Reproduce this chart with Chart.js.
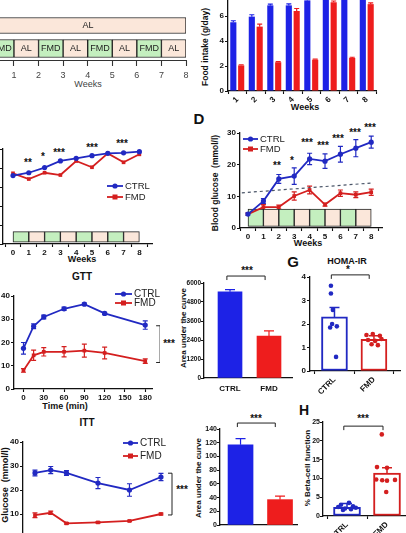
<!DOCTYPE html>
<html lang="en">
<head>
<meta charset="UTF-8">
<title>FMD figure</title>
<style>
  body { margin:0; width:406px; height:533px; overflow:hidden; position:relative; background:#fff;
         font-family:'Liberation Sans', Arial, sans-serif; color:#111; }
  canvas { position:absolute; }
  .t { position:absolute; white-space:nowrap; font-weight:bold; font-size:9px; line-height:1; transform:translate(-50%,-50%); }
  .rot { transform:translate(-50%,-50%) rotate(-90deg); }
  .letter { font-size:15px; }
  .star { font-size:10px; }
</style>
</head>
<body>
<div class="t" style="left:88px;top:84px;font-weight:normal;color:#444">Weeks</div>
<div class="t rot" style="left:205px;top:47px;font-size:8.5px">Food intake (g/day)</div>
<div class="t" style="left:305px;top:107px">Weeks</div>
<div class="t" style="left:82px;top:259px">Weeks</div>
<div class="t letter" style="left:199px;top:118px">D</div>
<div class="t rot" style="left:215px;top:183px;font-size:8.5px">Blood glucose&nbsp; (mmol/l)</div>
<div class="t" style="left:308px;top:243px">Weeks</div>
<div class="t" style="left:82px;top:277px;font-size:10px">GTT</div>
<div class="t" style="left:65px;top:406px">Time (min)</div>
<div class="t rot" style="left:184px;top:328px;font-size:8px">Area under the curve</div>
<div class="t letter" style="left:293px;top:261px">G</div>
<div class="t" style="left:347px;top:261px">HOMA-IR</div>
<div class="t" style="left:87px;top:423px;font-size:10px">ITT</div>
<div class="t rot" style="left:5px;top:485px">Glucose&nbsp; (mmol/l)</div>
<div class="t rot" style="left:199px;top:478px;font-size:8px">Area under the curve</div>
<div class="t letter" style="left:304px;top:410px;font-size:14px">H</div>
<div class="t rot" style="left:308px;top:468px;font-size:8px">% Beta-cell function</div>

<div class="t star" style="left:28px;top:163px">**</div>
<div class="t star" style="left:43px;top:157px">*</div>
<div class="t star" style="left:59px;top:153px">***</div>
<div class="t star" style="left:92px;top:148px">***</div>
<div class="t star" style="left:122px;top:144px">***</div>
<div class="t star" style="left:277px;top:166px">**</div>
<div class="t star" style="left:292px;top:161px">*</div>
<div class="t star" style="left:307px;top:143px">***</div>
<div class="t star" style="left:323px;top:146px">***</div>
<div class="t star" style="left:338px;top:139px">***</div>
<div class="t star" style="left:355px;top:133px">***</div>
<div class="t star" style="left:370px;top:128px">***</div>
<div class="t star" style="left:169px;top:344px">***</div>
<div class="t star" style="left:247px;top:271px">***</div>
<div class="t star" style="left:348px;top:270px">*</div>
<div class="t star" style="left:182px;top:490px">***</div>
<div class="t star" style="left:256px;top:419px">***</div>
<div class="t star" style="left:363px;top:419px">***</div>

<script src="https://cdn.jsdelivr.net/npm/chart.js"></script>
<script>
const BLUE = '#1d22e6', RED = '#ee1d1d', LBLUE = '#2129c2', LRED = '#d41f1f';
const GREEN = '#c4efbf', BEIGE = '#fbe7da';

// diet schedule
const weekTicks = [0, 1, 2, 3, 4, 5, 6, 7, 8];
const alSpan = [0, 8];
const cycleStarts = [0, 1, 2, 3, 4, 5, 6, 7];
const cycleLabels = ['FMD', 'AL', 'FMD', 'AL', 'FMD', 'AL', 'FMD', 'AL'];

// food intake (g/day)
const foodWeeks = ['1', '2', '3', '4', '5', '6', '7', '8'];
const foodCtrl = [5.5, 5.95, 6.85, 6.85, 7.25, 7.6, 7.7, 7.6];
const foodCtrlErr = [0.12, 0.15, 0.1, 0.12, 0.12, 0.15, 0.15, 0.15];
const foodFmd = [2.05, 5.15, 2.3, 6.4, 2.5, 7.1, 2.65, 6.95];
const foodFmdErr = [0.05, 0.2, 0.05, 0.2, 0.05, 0.1, 0.05, 0.1];

// body weight (panel C)
const weightCtrl = [36, 37.5, 40.2, 43.7, 45.1, 46.5, 47.7, 48, 48.6];
const weightFmd = [37.2, 34.2, 37.5, 36.3, 43.7, 40.4, 47.7, 43, 47.2];

// blood glucose (panel D)
const glucCtrl = [4.4, 8.5, 15.5, 16.4, 21.8, 21.1, 23.3, 25.2, 27.1];
const glucCtrlErr = [0.4, 0.8, 1.4, 2.6, 1.8, 2.3, 2.5, 2.7, 1.9];
const glucFmd = [4.4, 6.6, 6.6, 10.1, 12.0, 7.4, 11.0, 10.5, 11.3];
const glucFmdErr = [0.3, 0.8, 0.6, 1.3, 1.2, 0.5, 1.0, 0.9, 1.0];
const thresholdX = [-0.4, 8];
const thresholdY = [11.1, 14.2];

// GTT
const gttTime = [0, 15, 30, 60, 90, 120, 180];
const gttCtrl = [17.5, 27, 31, 34.5, 36.5, 32.5, 27.5];
const gttCtrlErr = [2.5, 1, 0.8, 0.7, 0.5, 0.5, 1.8];
const gttFmd = [8, 14.5, 16, 16, 16.5, 15.5, 12];
const gttFmdErr = [0.8, 2.2, 1.8, 2.2, 2.8, 2.5, 1];
const gttAuc = [5450, 2650];
const gttAucErr = [130, 330];

// HOMA-IR
const homaBar = [2.3, 1.35];
const homaErr = [0.4, 0.15];
const homaCtrlDots = [3.63, 3.3, 2.6, 2.0, 1.9, 1.85, 0.6];
const homaCtrlJit = [-0.09, -0.09, -0.04, -0.06, 0.06, -0.11, 0.04];
const homaFmdDots = [1.53, 1.57, 1.5, 1.32, 1.28, 1.36, 1.14, 1.1];
const homaFmdJit = [-0.19, -0.03, 0.15, -0.15, 0.03, 0.19, -0.06, 0.1];

// ITT
const ittTime = [0, 15, 30, 60, 90, 120];
const ittCtrl = [27.1, 28.3, 27.1, 22.9, 20, 25.4];
const ittCtrlErr = [1.2, 1.5, 1, 2.3, 2.6, 1.5];
const ittFmd = [9.5, 10.5, 6.1, 6.5, 7.1, 10];
const ittFmdErr = [1, 0.7, 0.3, 0.3, 0.3, 0.4];
const ittAuc = [117, 37];
const ittAucErr = [9, 5];

// beta-cell function
const betaBar = [2.3, 11.4];
const betaErr = [1.0, 1.4];
const betaCtrlDots = [3.5, 3.0, 2.6, 2.4, 2.2, 2.0, 1.8, 1.6];
const betaCtrlJit = [0.05, -0.15, 0.15, -0.22, 0.22, -0.05, 0.1, -0.1];
const betaFmdDots = [21.7, 13.0, 12.8, 9.7, 9.5, 9.4, 9.6, 6.4];
const betaFmdJit = [-0.13, -0.25, 0.0, -0.27, -0.12, 0.0, 0.2, -0.02];

const groups = ['CTRL', 'FMD'];

Chart.defaults.font.family = "'Liberation Sans', Arial, sans-serif";
Chart.defaults.font.size = 8;
Chart.defaults.font.weight = 'bold';
Chart.defaults.color = '#111';

const errorBars = {
  id: 'errorBars',
  beforeDatasetsDraw(chart) {
    const ctx = chart.ctx;
    chart.data.datasets.forEach((ds, i) => {
      if (!ds.errors) return;
      const meta = chart.getDatasetMeta(i);
      const ys = chart.scales[meta.yAxisID];
      ctx.save();
      ctx.lineWidth = ds.errWidth || 1.2;
      meta.data.forEach((el, j) => {
        const e = ds.errors[j];
        if (!e) return;
        const v = meta.controller.getParsed(j).y;
        const top = ys.getPixelForValue(v + e);
        const bot = ds.upOnly ? ys.getPixelForValue(v) : ys.getPixelForValue(v - e);
        const w = ds.capWidth || 2.5;
        ctx.strokeStyle = Array.isArray(ds.errColor) ? ds.errColor[j] : ds.errColor;
        ctx.beginPath();
        ctx.moveTo(el.x, top); ctx.lineTo(el.x, bot);
        ctx.moveTo(el.x - w, top); ctx.lineTo(el.x + w, top);
        if (!ds.upOnly) { ctx.moveTo(el.x - w, bot); ctx.lineTo(el.x + w, bot); }
        ctx.stroke();
      });
      ctx.restore();
    });
  }
};

const extras = {
  id: 'extras',
  afterDatasetsDraw(chart, args, opt) {
    const ctx = chart.ctx, xs = chart.scales.x, ys = chart.scales.y;
    ctx.save();
    ctx.strokeStyle = '#222';
    ctx.lineWidth = 1;
    if (opt.hBracket) {
      const b = opt.hBracket;
      const x1 = xs.getPixelForValue(b.x1), x2 = xs.getPixelForValue(b.x2), y = ys.getPixelForValue(b.y);
      ctx.beginPath();
      ctx.moveTo(x1, y + 4); ctx.lineTo(x1, y); ctx.lineTo(x2, y); ctx.lineTo(x2, y + 4);
      ctx.stroke();
    }
    if (opt.vBracket) {
      const b = opt.vBracket;
      const x = xs.getPixelForValue(b.x), y1 = ys.getPixelForValue(b.y1), y2 = ys.getPixelForValue(b.y2);
      ctx.beginPath();
      ctx.moveTo(x - 4, y1); ctx.lineTo(x, y1); ctx.lineTo(x, y2); ctx.lineTo(x - 4, y2);
      ctx.stroke();
    }
    if (opt.legend) {
      opt.legend.forEach(it => {
        const x = it.x - opt.ox, y = it.y - opt.oy;
        ctx.strokeStyle = it.color; ctx.fillStyle = it.color; ctx.lineWidth = 1.8;
        ctx.beginPath(); ctx.moveTo(x, y); ctx.lineTo(x + it.len, y); ctx.stroke();
        const mx = x + it.len / 2;
        ctx.beginPath();
        if (it.square) ctx.rect(mx - 2.5, y - 2.5, 5, 5); else ctx.arc(mx, y, 2.6, 0, Math.PI * 2);
        ctx.fill();
        ctx.fillStyle = '#222';
        ctx.font = 'normal ' + it.size + "px 'Liberation Sans', Arial, sans-serif";
        ctx.textBaseline = 'middle';
        ctx.fillText(it.text, x + it.len + 2, y + 0.5);
      });
    }
    chart.data.datasets.forEach((ds, i) => {
      if (!ds.segText) return;
      const meta = chart.getDatasetMeta(i);
      ctx.fillStyle = '#222';
      ctx.font = "normal 9px 'Liberation Sans', Arial, sans-serif";
      ctx.textAlign = 'center'; ctx.textBaseline = 'middle';
      meta.data.forEach((el, j) => ctx.fillText(ds.segText[j], (el.x + el.base) / 2, el.y + 0.5));
    });
    ctx.restore();
  }
};

function axis(o) {
  const base = {
    border: { display: true, color: '#111', width: 1.3 },
    grid: { drawOnChartArea: false, color: '#111', tickLength: 3, tickWidth: 1.1 },
    ticks: { color: '#111', padding: 1, font: { size: 8, weight: 'bold' } }
  };
  return Object.assign({}, base, o, {
    grid: Object.assign({}, base.grid, o.grid || {}),
    ticks: Object.assign({}, base.ticks, o.ticks || {}),
    border: Object.assign({}, base.border, o.border || {})
  });
}
function fixedTicks(vals) { return s => { s.ticks = vals.map(v => ({ value: v })); }; }
const plain = v => String(v);

function makeChart(box, area, cfg) {
  const c = document.createElement('canvas');
  c.width = box.w; c.height = box.h;
  c.style.left = box.x + 'px'; c.style.top = box.y + 'px';
  document.body.appendChild(c);
  const o = cfg.options;
  o.responsive = false;
  o.animation = false;
  o.layout = { autoPadding: false, padding: { left: 0, top: area.t - box.y, right: box.x + box.w - area.r, bottom: 0 } };
  const xs = o.scales.x, ys = o.scales.y;
  if (xs.display !== false) xs.afterFit = s => { s.height = box.y + box.h - area.b; };
  else o.layout.padding.bottom = box.y + box.h - area.b;
  if (ys.display !== false) ys.afterFit = s => { s.width = area.l - box.x; };
  else o.layout.padding.left = area.l - box.x;
  o.plugins = Object.assign({ legend: { display: false }, tooltip: { enabled: false } }, o.plugins || {});
  o.plugins.extras = Object.assign({ ox: box.x, oy: box.y }, o.plugins.extras || {});
  cfg.plugins = [errorBars, extras];
  return new Chart(c, cfg);
}

function scheduleBars(lo, hi) {
  return {
    type: 'bar', order: 5, grouped: false,
    data: cycleStarts.map(s => ({ x: s + 0.5, y: [lo, hi] })),
    backgroundColor: cycleLabels.map(l => l === 'FMD' ? GREEN : BEIGE),
    borderColor: '#222', borderWidth: 1, borderSkipped: false,
    barPercentage: 1, categoryPercentage: 1
  };
}
function lineSet(xv, yv, err, color, square) {
  return {
    type: 'line', order: 1,
    data: xv.map((x, i) => ({ x: x, y: yv[i] })),
    borderColor: color, backgroundColor: color, borderWidth: 1.8,
    pointRadius: 2.6, pointStyle: square ? 'rect' : 'circle', pointBorderWidth: 0,
    tension: 0, errors: err, errColor: color, capWidth: 2.5
  };
}
function dotSet(vals, jit, x0, color) {
  return {
    type: 'scatter', order: 0,
    data: vals.map((v, i) => ({ x: x0 + jit[i], y: v })),
    backgroundColor: color, pointRadius: 2.3, pointBorderWidth: 0
  };
}

// schedule timeline
makeChart({ x: -40, y: 0, w: 240, h: 90 }, { l: -10.6, t: 14, r: 186, b: 60 }, {
  type: 'bar',
  data: {
    labels: ['top', 'cycle'],
    datasets: [
      { data: [{ y: 'top', x: alSpan }], backgroundColor: BEIGE, borderColor: '#222', borderWidth: 1,
        borderSkipped: false, barThickness: 16, grouped: false, segText: ['AL'] },
      { data: cycleStarts.map(s => ({ y: 'cycle', x: [s, s + 1] })),
        backgroundColor: cycleLabels.map(l => l === 'FMD' ? GREEN : BEIGE), borderColor: '#222', borderWidth: 1,
        borderSkipped: false, barThickness: 18, grouped: false, segText: cycleLabels }
    ]
  },
  options: {
    indexAxis: 'y',
    scales: {
      x: axis({ type: 'linear', min: 0, max: 8, afterBuildTicks: fixedTicks(weekTicks),
        border: { color: '#333', width: 1 },
        grid: { tickLength: 6, color: '#333' },
        ticks: { color: '#444', padding: 4, font: { size: 9, weight: 'normal' } } }),
      y: { type: 'category', display: false }
    }
  }
});

// food intake
makeChart({ x: 195, y: -20, w: 211, h: 135 }, { l: 228, t: -9, r: 376, b: 91 }, {
  type: 'bar',
  data: {
    labels: foodWeeks,
    datasets: [
      { data: foodCtrl, backgroundColor: BLUE, errors: foodCtrlErr, errColor: BLUE, upOnly: true, capWidth: 2.5,
        categoryPercentage: 0.85, barPercentage: 0.78 },
      { data: foodFmd, backgroundColor: RED, errors: foodFmdErr, errColor: RED, upOnly: true, capWidth: 2.5,
        categoryPercentage: 0.85, barPercentage: 0.78 }
    ]
  },
  options: {
    scales: {
      x: axis({ type: 'category', ticks: { minRotation: 45, maxRotation: 45 } }),
      y: axis({ min: 0, max: 8, ticks: { stepSize: 2 } })
    }
  }
});

// panel C
makeChart({ x: -30, y: 135, w: 185, h: 130 }, { l: 3, t: 149, r: 152, b: 244 }, {
  type: 'line',
  data: {
    datasets: [
      scheduleBars(1, 6.5),
      lineSet(weekTicks, weightCtrl, null, LBLUE, false),
      lineSet(weekTicks, weightFmd, null, LRED, true)
    ]
  },
  options: {
    scales: {
      x: axis({ type: 'linear', offset: false, min: -0.633, max: 8.8, afterBuildTicks: fixedTicks(weekTicks) }),
      y: axis({ min: 0, max: 50, ticks: { stepSize: 10 } })
    },
    plugins: { extras: { legend: [
      { text: 'CTRL', color: LBLUE, x: 107, y: 186, len: 16, size: 9.5 },
      { text: 'FMD', color: LRED, x: 107, y: 197, len: 16, size: 9.5, square: true }
    ] } }
  }
});

// panel D
makeChart({ x: 205, y: 125, w: 201, h: 125 }, { l: 240, t: 133, r: 382, b: 228 }, {
  type: 'line',
  data: {
    datasets: [
      scheduleBars(0.5, 6),
      { type: 'line', order: 2, data: thresholdX.map((x, i) => ({ x: x, y: thresholdY[i] })),
        borderColor: '#4a5568', borderWidth: 1.2, borderDash: [3, 3], pointRadius: 0 },
      lineSet(weekTicks, glucCtrl, glucCtrlErr, LBLUE, false),
      lineSet(weekTicks, glucFmd, glucFmdErr, LRED, true)
    ]
  },
  options: {
    scales: {
      x: axis({ type: 'linear', offset: false, min: -0.52, max: 8.7, afterBuildTicks: fixedTicks(weekTicks) }),
      y: axis({ min: 0, max: 30, ticks: { stepSize: 10 } })
    },
    plugins: { extras: { legend: [
      { text: 'CTRL', color: LBLUE, x: 243, y: 139, len: 15, size: 9.5 },
      { text: 'FMD', color: LRED, x: 243, y: 149, len: 15, size: 9.5, square: true }
    ] } }
  }
});

// GTT
makeChart({ x: -20, y: 285, w: 180, h: 125 }, { l: 14, t: 296, r: 152, b: 389 }, {
  type: 'line',
  data: {
    datasets: [
      lineSet(gttTime, gttCtrl, gttCtrlErr, LBLUE, false),
      lineSet(gttTime, gttFmd, gttFmdErr, LRED, true)
    ]
  },
  options: {
    scales: {
      x: axis({ type: 'linear', min: -14, max: 190, afterBuildTicks: fixedTicks([0, 30, 60, 90, 120, 150, 180]) }),
      y: axis({ min: 0, max: 40, ticks: { stepSize: 5 } })
    },
    plugins: { extras: {
      vBracket: { x: 202, y1: 27.2, y2: 11.4 },
      legend: [
        { text: 'CTRL', color: LBLUE, x: 115, y: 294, len: 17, size: 10 },
        { text: 'FMD', color: LRED, x: 115, y: 303, len: 17, size: 10, square: true }
      ] } }
  }
});

// GTT area under the curve
makeChart({ x: 170, y: 270, w: 130, h: 125 }, { l: 204, t: 283, r: 292, b: 378 }, {
  type: 'bar',
  data: {
    datasets: [{ data: gttAuc.map((v, i) => ({ x: i, y: v })), backgroundColor: [BLUE, RED], barThickness: 24,
      errors: gttAucErr, errColor: [BLUE, RED], upOnly: true, capWidth: 5 }]
  },
  options: {
    scales: {
      x: axis({ type: 'linear', offset: false, min: -0.667, max: 1.59, afterBuildTicks: fixedTicks([0, 1]),
        grid: { display: false }, ticks: { callback: v => groups[v], padding: 3 } }),
      y: axis({ min: 0, max: 6000, ticks: { stepSize: 1200, callback: plain, padding: 0, font: { size: 6.5, weight: 'bold' } } })
    },
    plugins: { extras: { hBracket: { x1: -0.08, x2: 0.9, y: 6440 } } }
  }
});

// HOMA-IR
makeChart({ x: 280, y: 270, w: 126, h: 125 }, { l: 310, t: 277, r: 400, b: 371 }, {
  type: 'bar',
  data: {
    datasets: [
      dotSet(homaCtrlDots, homaCtrlJit, 0, LBLUE),
      dotSet(homaFmdDots, homaFmdJit, 1, LRED),
      { type: 'bar', order: 2, data: homaBar.map((v, i) => ({ x: i, y: v })), backgroundColor: '#fff',
        borderColor: [LBLUE, LRED], borderWidth: 2, borderSkipped: false, barThickness: 26,
        errors: homaErr, errColor: [LBLUE, LRED], upOnly: true, capWidth: 5, errWidth: 1.5 }
    ]
  },
  options: {
    scales: {
      x: axis({ type: 'linear', offset: false, min: -0.62, max: 1.66, afterBuildTicks: fixedTicks([0, 1]),
        ticks: { callback: v => groups[v], minRotation: 45, maxRotation: 45 } }),
      y: axis({ min: 0, max: 4, ticks: { stepSize: 1 } })
    },
    plugins: { extras: { hBracket: { x1: -0.08, x2: 0.88, y: 4.09 } } }
  }
});

// ITT
makeChart({ x: -10, y: 430, w: 190, h: 115 }, { l: 23, t: 442, r: 172, b: 538 }, {
  type: 'line',
  data: {
    datasets: [
      lineSet(ittTime, ittCtrl, ittCtrlErr, LBLUE, false),
      lineSet(ittTime, ittFmd, ittFmdErr, LRED, true)
    ]
  },
  options: {
    scales: {
      x: axis({ type: 'linear', min: -11.4, max: 130.5, afterBuildTicks: fixedTicks([0, 30, 60, 90, 120]) }),
      y: axis({ min: 0, max: 40, ticks: { stepSize: 5 } })
    },
    plugins: { extras: {
      vBracket: { x: 130.5, y1: 27, y2: 9.6 },
      legend: [
        { text: 'CTRL', color: LBLUE, x: 123, y: 443, len: 15, size: 10 },
        { text: 'FMD', color: LRED, x: 123, y: 456, len: 15, size: 10, square: true }
      ] } }
  }
});

// ITT area under the curve
makeChart({ x: 185, y: 415, w: 120, h: 125 }, { l: 220, t: 429, r: 297, b: 525 }, {
  type: 'bar',
  data: {
    datasets: [{ data: ittAuc.map((v, i) => ({ x: i, y: v })), backgroundColor: [BLUE, RED], barThickness: 25,
      errors: ittAucErr, errColor: [BLUE, RED], upOnly: true, capWidth: 5 }]
  },
  options: {
    scales: {
      x: axis({ type: 'linear', offset: false, min: -0.52, max: 1.43, afterBuildTicks: fixedTicks([0, 1]),
        grid: { display: false }, ticks: { callback: v => groups[v], padding: 3 } }),
      y: axis({ min: 0, max: 140, ticks: { stepSize: 20, callback: plain, padding: 0, font: { size: 7, weight: 'bold' } } })
    },
    plugins: { extras: { hBracket: { x1: -0.08, x2: 0.88, y: 148.7 } } }
  }
});

// beta-cell function
makeChart({ x: 290, y: 415, w: 116, h: 125 }, { l: 323, t: 422, r: 406, b: 516 }, {
  type: 'bar',
  data: {
    datasets: [
      dotSet(betaCtrlDots, betaCtrlJit, 0, LBLUE),
      dotSet(betaFmdDots, betaFmdJit, 1, LRED),
      { type: 'bar', order: 2, data: betaBar.map((v, i) => ({ x: i, y: v })), backgroundColor: '#fff',
        borderColor: [LBLUE, LRED], borderWidth: 2, borderSkipped: false, barThickness: 27,
        errors: betaErr, errColor: [LBLUE, LRED], upOnly: true, capWidth: 5, errWidth: 1.5 }
    ]
  },
  options: {
    scales: {
      x: axis({ type: 'linear', offset: false, min: -0.6, max: 1.475, afterBuildTicks: fixedTicks([0, 1]),
        ticks: { callback: v => groups[v], minRotation: 45, maxRotation: 45 } }),
      y: axis({ min: 0, max: 25, ticks: { stepSize: 5, padding: 0, font: { size: 7, weight: 'bold' } } })
    },
    plugins: { extras: { hBracket: { x1: -0.08, x2: 0.9, y: 23.9 } } }
  }
});
</script>
</body>
</html>
